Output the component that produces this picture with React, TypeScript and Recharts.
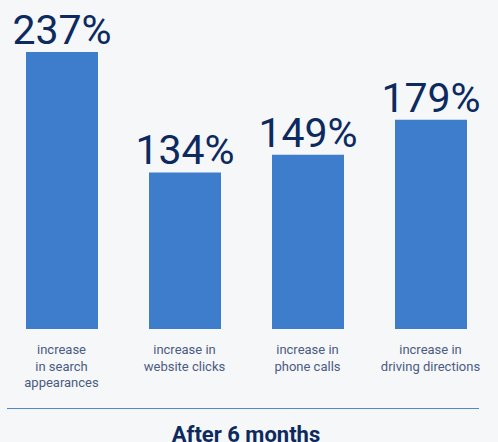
import { BarChart, Bar, XAxis, YAxis, LabelList } from 'recharts'

const categories = [
  'increase|in search|appearances',
  'increase in|website clicks',
  'increase in|phone calls',
  'increase in|driving directions',
]
const increases = [237, 134, 149, 179]
const footer = 'After 6 months'

const data = categories.map((name, i) => ({ name, value: increases[i] }))

const NAVY = '#0c2a60'
const BLUE = '#3d7dcb'
const BG = '#f6f7f9'

function CategoryTick({ x, y, payload }: any) {
  const lines = String(payload.value).split('|')
  return (
    <text x={x} y={y} textAnchor="middle" fill="#4b5c82" fontSize={13} fontFamily="Roboto">
      {lines.map((line, i) => (
        <tspan key={i} x={x} dy={i === 0 ? 17 : 16.5}>
          {line}
        </tspan>
      ))}
    </text>
  )
}

export default function App() {
  return (
    <div
      style={{
        position: 'fixed',
        top: 0,
        left: 0,
        width: 498,
        height: 442,
        background: BG,
        overflow: 'hidden',
        fontFamily: 'Roboto',
      }}
    >
      <BarChart width={498} height={442} data={data} margin={{ top: 52, right: 6, bottom: 0, left: 0 }}>
        <YAxis hide domain={[0, 'dataMax']} />
        <XAxis
          dataKey="name"
          axisLine={false}
          tickLine={false}
          height={113}
          interval={0}
          tick={<CategoryTick />}
        />
        <Bar dataKey="value" fill={BLUE} barSize={72} isAnimationActive={false}>
          <LabelList
            dataKey="value"
            position="top"
            offset={8}
            formatter={(v: any) => `${v}%`}
            fill={NAVY}
            fontSize={41}
            fontFamily="Roboto"
          />
        </Bar>
      </BarChart>
      <div
        style={{
          position: 'absolute',
          left: 7,
          top: 407.5,
          width: 472,
          height: 1,
          background: '#4f88d0',
        }}
      />
      <div
        style={{
          position: 'absolute',
          left: 0,
          width: 492,
          top: 424,
          textAlign: 'center',
          fontSize: 22,
          fontWeight: 700,
          color: NAVY,
          lineHeight: '22px',
        }}
      >
        {footer}
      </div>
    </div>
  )
}
